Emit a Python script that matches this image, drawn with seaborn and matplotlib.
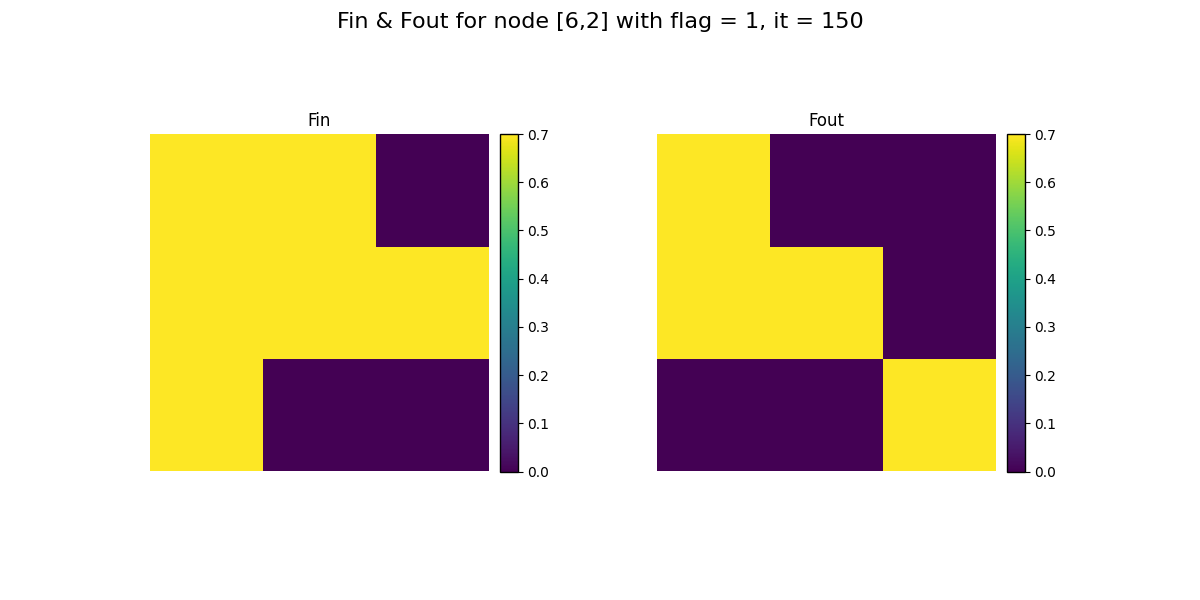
import numpy as np
import matplotlib
matplotlib.use("Agg")
import matplotlib.pyplot as plt
import seaborn as sns

# valores de las matrices 3x3
fin = [[0.7, 0.7, 0.0],
       [0.7, 0.7, 0.7],
       [0.7, 0.0, 0.0]]
fout = [[0.7, 0.0, 0.0],
        [0.7, 0.7, 0.0],
        [0.0, 0.0, 0.7]]
titulos = ["Fin", "Fout"]
cbar_ticks = [0.0, 0.1, 0.2, 0.3, 0.4, 0.5, 0.6, 0.7]

fig = plt.figure(figsize=(12, 6), dpi=100)

# posiciones en coordenadas de figura (izq, abajo, ancho, alto)
bottom = (600 - 471.5) / 600
height = 337.5 / 600
ejes = [fig.add_axes([150 / 1200, bottom, 339 / 1200, height]),
        fig.add_axes([657 / 1200, bottom, 339 / 1200, height])]
cbars = [fig.add_axes([500 / 1200, bottom, 17.7 / 1200, height]),
         fig.add_axes([1007 / 1200, bottom, 17.7 / 1200, height])]

for ax, cax, datos, titulo in zip(ejes, cbars, [fin, fout], titulos):
    sns.heatmap(np.array(datos), ax=ax, cbar_ax=cax, cmap="viridis",
                vmin=0, vmax=0.7, xticklabels=False, yticklabels=False,
                cbar_kws={"ticks": cbar_ticks})
    ax.set_title(titulo, fontsize=12)
    cb = ax.collections[0].colorbar
    cb.outline.set_visible(True)
    cb.outline.set_linewidth(1.0)
    cb.outline.set_edgecolor("black")
    cb.ax.tick_params(labelsize=10, length=3.5, width=0.8)
    cb.ax.set_yticklabels([f"{t:.1f}" for t in cbar_ticks])

fig.suptitle("Fin & Fout for node [6,2] with flag = 1, it = 150", fontsize=16, y=0.98)

plt.savefig("out.png", dpi=100)
